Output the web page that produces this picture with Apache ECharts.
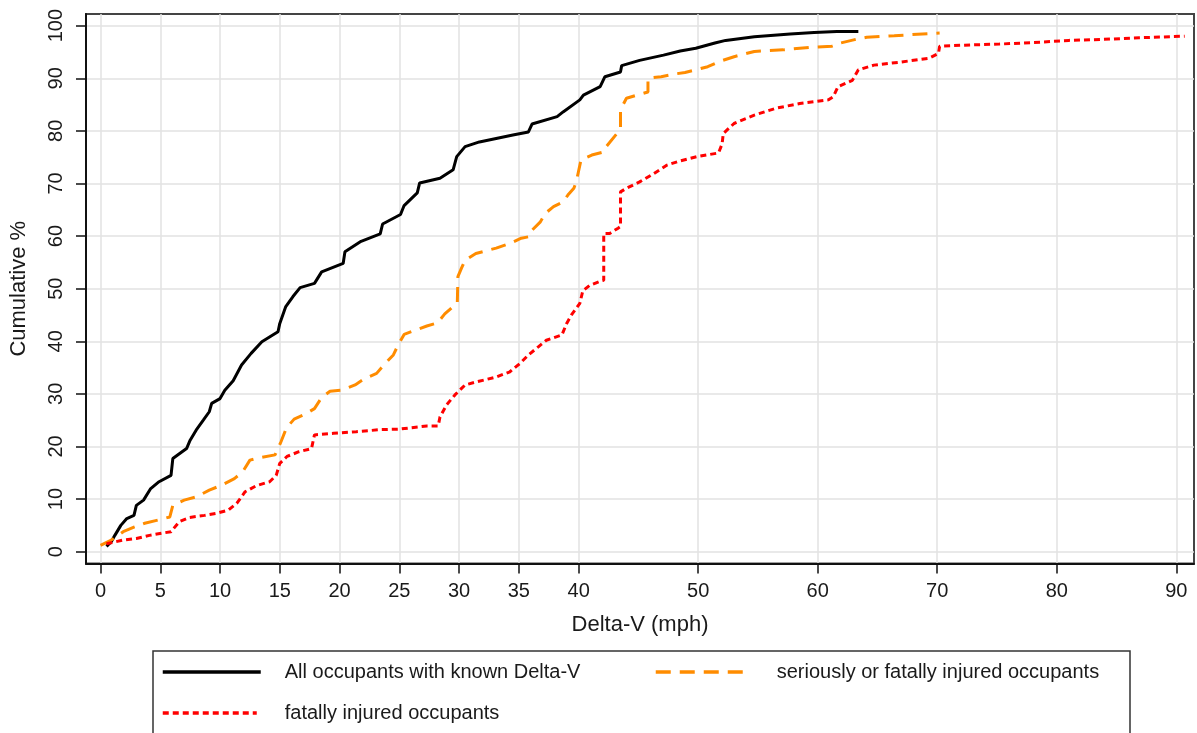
<!DOCTYPE html>
<html><head><meta charset="utf-8">
<script src="https://cdn.jsdelivr.net/npm/echarts@6/dist/echarts.min.js"></script>
<style>html,body{margin:0;padding:0;background:#fff}#c{width:1197px;height:733px}</style>
</head><body><div id="c"></div>
<script>
const xTicks = [0,5,10,15,20,25,30,35,40,50,60,70,80,90];
const yTicks = [0,10,20,30,40,50,60,70,80,90,100];
const seriesNames = ['All occupants with known Delta-V','seriously or fatally injured occupants','fatally injured occupants'];

const allOccupants = [[0.5,1.0],[0.9,1.9],[1.2,3.1],[1.7,5.0],[2.2,6.3],[2.8,6.9],[3.0,8.8],[3.6,9.8],[4.2,12.0],[4.9,13.3],[5.9,14.5],[6.05,17.7],[7.2,19.6],[7.5,21.2],[8.0,23.1],[8.6,25.0],[9.1,26.6],[9.3,28.2],[10.0,29.1],[10.4,30.7],[11.1,32.5],[11.8,35.5],[12.6,37.7],[13.5,39.9],[14.85,41.8],[15.0,43.4],[15.5,46.6],[16.1,48.5],[16.7,50.2],[17.9,51.0],[18.5,53.2],[20.3,54.8],[20.45,57.0],[21.8,59.0],[23.4,60.4],[23.6,62.3],[25.1,64.1],[25.4,65.8],[26.5,68.2],[26.7,70.1],[28.4,71.0],[29.5,72.6],[29.8,75.1],[30.5,77.0],[31.7,77.9],[34.5,79.2],[35.8,79.8],[36.1,81.3],[38.2,82.7],[38.7,83.6],[40.1,85.9],[40.4,86.8],[41.8,88.4],[42.2,90.3],[43.5,91.2],[43.6,92.4],[45.1,93.4],[47.1,94.4],[48.5,95.2],[49.8,95.7],[51.4,96.7],[52.3,97.2],[54.7,97.9],[57.7,98.4],[59.7,98.7],[61.6,98.9],[63.4,98.9]];

const seriousOccupants = [[0.0,1.2],[0.9,2.2],[1.9,3.8],[2.85,4.7],[3.7,5.4],[4.8,6.0],[5.8,6.6],[6.05,8.8],[7.0,9.8],[8.0,10.4],[9.1,11.7],[10.1,12.6],[11.2,13.9],[11.9,15.2],[12.5,17.4],[13.0,17.7],[14.6,18.4],[14.85,19.6],[15.1,20.9],[15.55,23.5],[16.2,25.2],[17.1,26.1],[17.9,27.2],[18.5,29.3],[19.2,30.5],[20.2,30.7],[21.3,31.7],[22.1,32.9],[23.1,33.9],[23.7,35.5],[24.5,37.4],[24.9,39.3],[25.4,41.3],[26.2,42.0],[27.3,42.9],[28.2,43.5],[28.8,45.2],[29.65,46.9],[29.85,47.2],[29.9,52.3],[30.2,53.9],[30.5,55.4],[31.4,56.7],[33.1,57.7],[34.25,58.6],[35.2,59.6],[35.9,59.9],[36.1,61.1],[36.8,62.7],[37.2,64.3],[37.9,65.6],[38.7,66.5],[39.1,67.8],[39.6,69.1],[39.8,70.3],[40.2,74.5],[41.1,75.4],[42.1,76.0],[42.2,76.7],[43.2,79.5],[43.5,80.2],[43.5,84.0],[44.0,86.2],[44.9,86.8],[45.8,87.4],[45.8,90.0],[46.9,90.3],[48.0,90.8],[48.9,91.1],[49.8,91.6],[50.8,92.2],[51.8,93.2],[53.0,94.1],[54.7,95.1],[57.1,95.4],[59.4,95.9],[61.2,96.1],[61.9,96.7],[63.2,97.4],[64.1,97.8],[66.4,98.1],[70.2,98.6]];

const fatalOccupants = [[0.5,1.5],[1.9,2.2],[3.0,2.5],[4.1,3.1],[5.1,3.5],[5.9,3.8],[6.6,5.7],[7.45,6.5],[8.7,6.9],[9.7,7.3],[10.7,7.9],[11.4,9.2],[12.1,11.4],[13.0,12.5],[14.15,13.3],[14.7,14.5],[15.0,16.8],[15.6,18.1],[16.6,19.0],[17.65,19.6],[17.9,22.2],[19.5,22.5],[21.4,22.8],[23.4,23.2],[25.0,23.3],[27.3,23.9],[28.25,23.9],[28.4,25.6],[28.95,27.9],[29.65,29.8],[30.5,31.7],[31.5,32.3],[33.1,33.2],[34.25,34.2],[35.1,35.8],[35.8,37.4],[36.6,38.9],[37.3,40.2],[38.6,41.2],[39.0,43.4],[39.4,45.0],[40.1,47.2],[40.35,49.6],[40.9,50.6],[41.9,51.5],[42.1,51.6],[42.1,60.5],[42.6,60.5],[43.3,61.5],[43.5,61.8],[43.5,68.4],[44.0,69.1],[45.1,70.3],[46.3,71.9],[47.4,73.5],[48.5,74.3],[49.9,75.1],[51.7,75.8],[52.0,77.5],[52.1,79.5],[53.0,81.4],[54.7,83.0],[56.5,84.3],[58.5,85.2],[60.9,85.9],[61.3,86.5],[61.7,88.4],[62.9,89.6],[63.4,91.6],[64.7,92.5],[67.0,93.1],[69.3,93.8],[70.1,94.7],[70.2,96.1],[72.3,96.3],[75.2,96.5],[78.1,96.8],[81.0,97.2],[83.95,97.4],[86.9,97.7],[90.7,98.0]];

const FONT = '"Liberation Sans", Arial, sans-serif';
const TXT = '#1a1a1a';
const chart = echarts.init(document.getElementById('c'), null, {renderer:'canvas'});

function legendBlock(name, left, top, w, pad) {
  return {
    show: true, data: [name], left: left, top: top, padding: 0,
    orient: 'horizontal', itemWidth: w, itemHeight: 20, selectedMode: false,
    itemStyle: {opacity: 0},
    lineStyle: {width: 3.5},
    textStyle: {fontFamily: FONT, fontSize: 20, color: TXT, padding: [0,0,0,pad], lineHeight: 20}
  };
}

chart.setOption({
  animation: false,
  backgroundColor: '#fff',
  grid: {left: 86, top: 14, width: 1108, height: 549.5, show: true, borderColor: '#444', borderWidth: 2, backgroundColor: 'transparent'},
  xAxis: {
    type: 'value', min: -1.213, max: 91.48,
    name: 'Delta-V (mph)', nameLocation: 'middle', nameGap: 50,
    nameTextStyle: {fontFamily: FONT, fontSize: 22, color: TXT},
    axisLine: {show: true, onZero: false, lineStyle: {color: '#111', width: 2}},
    axisTick: {show: true, length: 10, customValues: xTicks, lineStyle: {color: '#111', width: 1.5}},
    axisLabel: {customValues: xTicks, margin: 18, fontFamily: FONT, fontSize: 20, color: TXT},
    splitLine: {show: true, lineStyle: {color: '#e2e2e2', width: 1.5}}
  },
  yAxis: {
    type: 'value', min: -2.25, max: 102.22,
    name: 'Cumulative %', nameLocation: 'middle', nameGap: 56,
    nameTextStyle: {fontFamily: FONT, fontSize: 22, color: TXT},
    axisLine: {show: true, onZero: false, lineStyle: {color: '#111', width: 2}},
    axisTick: {show: true, length: 10, customValues: yTicks, lineStyle: {color: '#111', width: 1.5}},
    axisLabel: {customValues: yTicks, rotate: 90, margin: 20, fontFamily: FONT, fontSize: 20, color: TXT},
    splitLine: {show: true, lineStyle: {color: '#e2e2e2', width: 1.5}}
  },
  legend: [
    legendBlock(seriesNames[0], 161, 662, 98, 19),
    legendBlock(seriesNames[1], 654, 662, 90, 26),
    legendBlock(seriesNames[2], 161, 703, 94, 23)
  ],
  graphic: [{type: 'rect', silent: true, shape: {x: 153, y: 651, width: 977, height: 100}, style: {fill: 'none', stroke: '#333', lineWidth: 1.5}}],
  series: [
    {name: seriesNames[0], type: 'line', data: allOccupants, symbol: 'none', showSymbol: false, lineStyle: {color: '#000', width: 3}, itemStyle: {color: '#000'}, z: 3},
    {name: seriesNames[1], type: 'line', data: seriousOccupants, symbol: 'none', showSymbol: false, lineStyle: {color: '#ff8c00', width: 3, type: [15, 9]}, itemStyle: {color: '#ff8c00'}, z: 4},
    {name: seriesNames[2], type: 'line', data: fatalOccupants, symbol: 'none', showSymbol: false, lineStyle: {color: '#ff0000', width: 3, type: [6, 4]}, itemStyle: {color: '#ff0000'}, z: 5}
  ]
});
</script>
</body></html>
